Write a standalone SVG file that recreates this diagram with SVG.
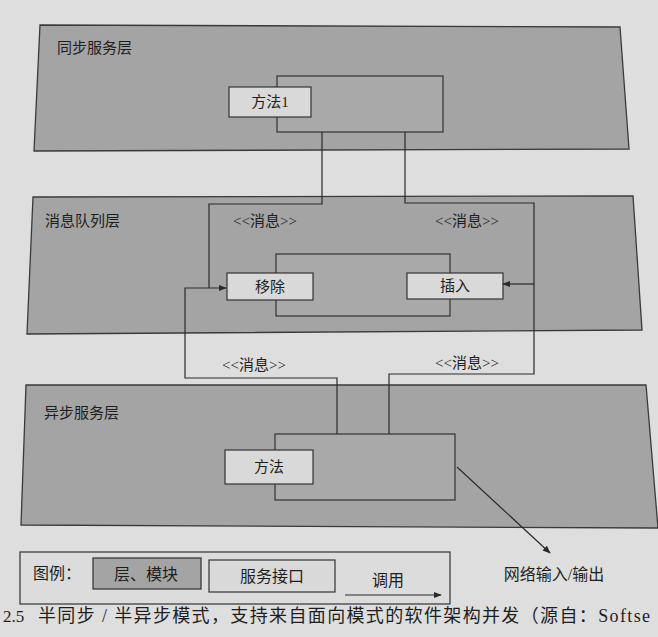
<svg xmlns="http://www.w3.org/2000/svg" width="658" height="637" viewBox="0 0 658 637">
<defs>
<marker id="ah" viewBox="0 0 10 10" refX="9" refY="5" markerWidth="8" markerHeight="8" markerUnits="userSpaceOnUse" orient="auto">
<path d="M0,1 L10,5 L0,9 z" fill="#2a2a2a"/>
</marker>
<style>
.layer{fill:#a4a4a4;stroke:#3a3a3a;stroke-width:1.3}
.iface{fill:#a9a9a9;stroke:#333;stroke-width:1.2}
.box{fill:#d9d9d9;stroke:#333;stroke-width:1.2}
.t{font-family:"Liberation Serif","Noto Sans CJK SC",serif;fill:#1e1e1e}
.lt{font-size:15px}
.bt{font-size:15px;text-anchor:middle}
.lg{font-size:16px;text-anchor:middle}
.c{fill:none;stroke:#2a2a2a;stroke-width:1.2}
</style>
</defs>
<rect x="0" y="0" width="658" height="637" fill="#dedede"/>

<g id="sync-layer">
<polygon class="layer" points="40,25 620,27 629,149 34,151"/>
<text class="t lt" x="57" y="53">同步服务层</text>
</g>
<g id="queue-layer">
<polygon class="layer" points="33,197 633,196 642,330 27,334"/>
<text class="t lt" x="45" y="226">消息队列层</text>
</g>
<g id="async-layer">
<polygon class="layer" points="26,385 646,385 658,528 21,525"/>
<text class="t lt" x="44" y="418">异步服务层</text>
</g>

<g id="sync-interface"><rect class="iface" x="277" y="76" width="166" height="56"/></g>
<g id="method1"><rect class="box" x="229" y="87" width="82" height="30"/><text class="t bt" x="270" y="107">方法1</text></g>

<g id="queue-interface"><rect class="iface" x="276" y="254" width="174" height="62"/></g>
<g id="remove"><rect class="box" x="227" y="273" width="86" height="27"/><text class="t bt" x="270" y="292">移除</text></g>
<g id="insert"><rect class="box" x="407" y="273" width="96" height="26"/><text class="t bt" x="455" y="291">插入</text></g>

<g id="async-interface"><rect class="iface" x="275" y="434" width="180" height="66"/></g>
<g id="method"><rect class="box" x="225" y="450" width="88" height="34"/><text class="t bt" x="269" y="472">方法</text></g>

<g id="connectors">
<path class="c" d="M322,132 V204 H209 V288"/>
<path class="c" d="M337,434 V378 H185 V288 H226" marker-end="url(#ah)"/>
<path class="c" d="M405,132 V203 H534 V374 H389 V434"/>
<path class="c" d="M534,284 H503" marker-end="url(#ah)"/>
<path class="c" d="M457,467 L550,553" marker-end="url(#ah)"/>
<text class="t bt" x="265" y="226">&lt;&lt;消息&gt;&gt;</text>
<text class="t bt" x="467" y="226">&lt;&lt;消息&gt;&gt;</text>
<text class="t bt" x="254" y="370">&lt;&lt;消息&gt;&gt;</text>
<text class="t bt" x="467" y="368">&lt;&lt;消息&gt;&gt;</text>
</g>

<g id="network">
<text class="t lg" x="554" y="580">网络输入/输出</text>
</g>

<g id="legend">
<rect x="20" y="552" width="430" height="52" fill="#dcdcdc" stroke="#333" stroke-width="1.2"/>
<text class="t" x="33" y="579" font-size="16">图例：</text>
<rect class="layer" x="93" y="558" width="108" height="31"/>
<text class="t lg" x="146" y="580">层、模块</text>
<rect class="box" x="209" y="560" width="126" height="32"/>
<text class="t lg" x="272" y="582">服务接口</text>
<text class="t lg" x="388" y="586">调用</text>
<path class="c" d="M345,595 H441" marker-end="url(#ah)"/>
</g>

<g id="caption">
<text class="t" x="3" y="622" font-size="17">2.5</text>
<text class="t" x="38" y="622" font-size="18" textLength="612" lengthAdjust="spacing">半同步 / 半异步模式，支持来自面向模式的软件架构并发（源自：Softse</text>
</g>
</svg>
